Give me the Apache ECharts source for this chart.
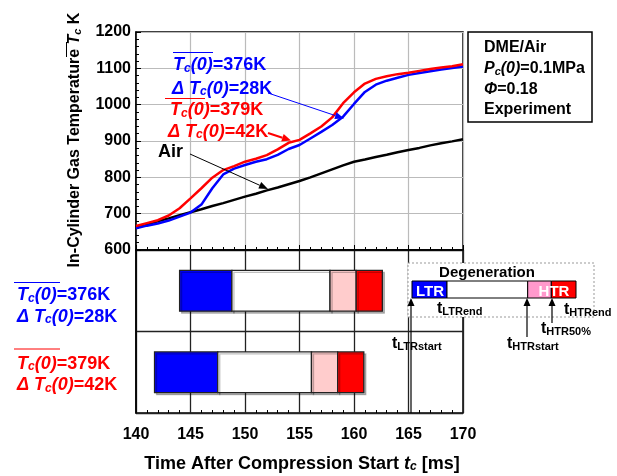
<!DOCTYPE html>
<html><head><meta charset="utf-8">
<script src="https://cdn.jsdelivr.net/npm/echarts@6/dist/echarts.min.js"></script>
<style>html,body{margin:0;padding:0;background:#fff}#c{width:617px;height:476px}</style>
</head><body><div id="c"></div>
<script>
// ---- data ----
const times = [140,141,142,143,144,145,146,147,148,149,150,151,152,153,154,155,156,157,158,159,160,161,162,163,164,165,166,167,168,169,170];
const tempRed = [666,674,682,695,715,742,770,799,820,831,843,851,861,877,895,903,921,940,965,1004,1034,1058,1071,1078,1084,1088,1093,1098,1102,1106,1111];
const tempBlue = [660,667,673,681,692,703,725,770,808,824,834,843,850,862,878,889,907,925,944,967,1002,1035,1055,1066,1074,1082,1087,1092,1097,1101,1105];
const tempAir = [664,671,679,687,696,704,712,721,729,738,747,755,764,772,781,790,800,811,822,833,843,849,856,862,869,875,881,888,894,899,905];
const rows = ['376K/28K','379K/42K'];
const ltrStart = [144.0, 141.7];
const ltrEnd = [148.8, 147.5];
const htrStart = [157.8, 156.1];
const htr50 = [160.2, 158.5];
const htrEnd = [162.6, 160.9];
const xTicks = [140,145,150,155,160,165,170];
const yTicks = [600,700,800,900,1000,1100,1200];

const FF = 'Liberation Sans, Arial, sans-serif';
const BLUE = '#0000ff', RED = '#ff0000';
const segColors = [BLUE, '#ffffff', '#ffcccc', RED];

function pairs(v){ return times.map((t,i)=>[t,v[i]]); }
const barData = [];
rows.forEach((r,i)=>{
  barData.push([i, ltrStart[i], ltrEnd[i], 0]);
  barData.push([i, ltrEnd[i], htrStart[i], 1]);
  barData.push([i, htrStart[i], htr50[i], 2]);
  barData.push([i, htr50[i], htrEnd[i], 3]);
});

function rich(color, size){
  const s = size||18;
  return {
    n:{fontSize:s, fontWeight:'bold', fontFamily:FF, fill:color, lineHeight:s+4, verticalAlign:'bottom'},
    i:{fontSize:s, fontWeight:'bold', fontStyle:'italic', fontFamily:FF, fill:color, lineHeight:s+4, verticalAlign:'bottom'},
    s:{fontSize:Math.round(s*0.66), fontWeight:'bold', fontStyle:'italic', fontFamily:FF, fill:color, lineHeight:8, verticalAlign:'bottom'},
    u:{fontSize:Math.round(s*0.7), fontWeight:'bold', fontFamily:FF, fill:color, lineHeight:8, verticalAlign:'bottom'}
  };
}
function rtext(x,y,text,color,size,align){
  return {type:'text', x:x, y:y, z:50, style:{text:text, rich:rich(color,size), align:align||'left', verticalAlign:'middle'}};
}
function line(x1,y1,x2,y2,color,w,dash){
  return {type:'line', z:50, shape:{x1,y1,x2,y2}, style:{stroke:color, lineWidth:w, lineDash:dash||null}};
}
function arrow(x1,y1,x2,y2,color,w,hl,hw){
  const dx=x2-x1, dy=y2-y1, L=Math.hypot(dx,dy), ux=dx/L, uy=dy/L;
  const bx=x2-ux*hl, by=y2-uy*hl;
  return [
    {type:'line', z:50, shape:{x1,y1,x2:bx,y2:by}, style:{stroke:color,lineWidth:w}},
    {type:'polygon', z:50, shape:{points:[[x2,y2],[bx-uy*hw,by+ux*hw],[bx+uy*hw,by-ux*hw]]}, style:{fill:color}}
  ];
}

const tc0 = (v)=>'{i|T}{s|c}{i|(0)}{n|='+v+'}';
const dtc0 = (v)=>'{i|Δ T}{s|c}{i|(0)}{n|='+v+'}';

const g = [];
// y axis title
g.push({type:'text', x:73, y:140, rotation:Math.PI/2, z:50,
  style:{text:'{n|In-Cylinder Gas Temperature }{i|T}{s|c}{n| K}', rich:rich('#000',16), align:'center', verticalAlign:'middle'}});
g.push(line(66.5,42,66.5,57,'#000',1));
// x axis title
g.push(rtext(302,462,'{n|Time After Compression Start }{i|t}{s|c}{n| [ms]}','#000',18,'center'));
// top annotations
g.push(rtext(173,63.5,tc0('376K'),BLUE));
g.push(line(173,52.5,213,52.5,BLUE,1));
g.push(rtext(172,87,dtc0('28K'),BLUE));
g.push(rtext(170,108.5,tc0('379K'),RED));
g.push(line(165,98.5,205,98.5,RED,1));
g.push(rtext(168,130,dtc0('42K'),RED));
g.push(rtext(158,150,'{n|Air}','#000'));
g.push(...arrow(268,93,344,118.5,BLUE,1,9,3.5));
g.push(...arrow(268,133,291,140.5,RED,2,9,4));
g.push(...arrow(190,154,268,189,'#000',1,9,3.5));
// legend box
g.push({type:'rect', z:40, shape:{x:468,y:32,width:124,height:90}, style:{fill:'#fff',stroke:'#000',lineWidth:1.5}});
g.push(rtext(484,46,'{n|DME/Air}','#000',16));
g.push(rtext(484,67,'{i|P}{s|c}{i|(0)}{n|=0.1MPa}','#000',16));
g.push(rtext(484,87.5,'{i|Φ}{n|=0.18}','#000',16));
g.push(rtext(484,107.5,'{n|Experiment}','#000',16));
// bottom-left labels
g.push(line(14,282.5,60,282.5,BLUE,1));
g.push(rtext(17,293.5,tc0('376K'),BLUE));
g.push(rtext(17,315,dtc0('28K'),BLUE));
g.push(line(14,349,60,349,RED,1));
g.push(rtext(17,362,tc0('379K'),RED));
g.push(rtext(17,383.5,dtc0('42K'),RED));
// inset schematic
g.push({type:'rect', z:40, shape:{x:408,y:263,width:186,height:54}, style:{fill:'#fff',stroke:'#999',lineWidth:1,lineDash:[2,2]}});
g.push(rtext(487,271,'{n|Degeneration}','#000',15,'center'));
const ib=[[412,447,BLUE],[447,527.7,'#fff'],[527.7,551.3,'#ff99cc'],[551.3,576,RED]];
ib.forEach(s=>g.push({type:'rect', z:45, shape:{x:s[0],y:281,width:s[1]-s[0],height:17}, style:{fill:s[2],stroke:'#000',lineWidth:1}}));
g.push(rtext(430,290,'{n|LTR}','#fff',15,'center'));
g.push(rtext(554,290,'{n|HTR}','#fff',15,'center'));
g.push(...arrow(411,413,411,298,'#000',1.2,8,3.5));
g.push(...arrow(527,337,527,298,'#000',1.2,8,3.5));
g.push(...arrow(552,323,552,298,'#000',1.2,8,3.5));
g.push(rtext(392,342,'{n|t}{u|LTRstart}','#000',16));
g.push(rtext(437,307,'{n|t}{u|LTRend}','#000',16));
g.push(rtext(507,342,'{n|t}{u|HTRstart}','#000',16));
g.push(rtext(541,327,'{n|t}{u|HTR50%}','#000',16));
g.push(rtext(564,308,'{n|t}{u|HTRend}','#000',16));

const chart = echarts.init(document.getElementById('c'), null, {renderer:'canvas', width:617, height:476});
const axLab = {color:'#000', fontWeight:'bold', fontSize:16, fontFamily:FF};
chart.setOption({
  animation:false,
  backgroundColor:'#fff',
  grid:[
    {left:136, top:32, width:327, height:218, show:true, borderColor:'#000', borderWidth:1.5, backgroundColor:'transparent'},
    {left:136, top:250, width:327, height:163, show:true, borderColor:'#000', borderWidth:1.5, backgroundColor:'transparent'}
  ],
  xAxis:[
    {type:'value', gridIndex:0, min:140, max:170, interval:5,
     axisLine:{lineStyle:{color:'#000',width:1.5}}, axisLabel:{show:false},
     axisTick:{inside:true, length:5, lineStyle:{color:'#000'}},
     minorTick:{show:true, splitNumber:5, length:3, lineStyle:{color:'#000'}},
     splitLine:{show:true, lineStyle:{color:'#bbbbbb', width:1.2}}},
    {type:'value', gridIndex:1, min:140, max:170, interval:5,
     axisLine:{lineStyle:{color:'#000',width:1.5}},
     axisLabel:Object.assign({margin:14, formatter:(v)=>xTicks.includes(v)?String(v):''}, axLab),
     axisTick:{inside:true, length:5, lineStyle:{color:'#000'}},
     minorTick:{show:true, splitNumber:5, length:3, lineStyle:{color:'#000'}},
     splitLine:{show:true, lineStyle:{color:'#222', width:1.3}}}
  ],
  yAxis:[
    {type:'value', gridIndex:0, min:600, max:1200, interval:100,
     axisLine:{show:true, lineStyle:{color:'#000',width:1.5}},
     axisLabel:Object.assign({margin:5, formatter:(v)=>yTicks.includes(v)?String(v):''}, axLab),
     axisTick:{inside:true, length:5, lineStyle:{color:'#000'}},
     minorTick:{show:true, splitNumber:5, length:3, lineStyle:{color:'#000'}},
     splitLine:{show:true, lineStyle:{color:'#bbbbbb', width:1.2}}},
    {type:'category', gridIndex:1, data:rows, inverse:true,
     axisLine:{show:true, lineStyle:{color:'#000',width:1.5}}, axisLabel:{show:false}, axisTick:{show:false},
     splitLine:{show:true, lineStyle:{color:'#222', width:1.3}}}
  ],
  series:[
    {type:'line', xAxisIndex:0, yAxisIndex:0, data:pairs(tempAir), showSymbol:false, lineStyle:{color:'#000', width:2.5}, z:5},
    {type:'line', xAxisIndex:0, yAxisIndex:0, data:pairs(tempBlue), showSymbol:false, lineStyle:{color:BLUE, width:2.5}, z:6},
    {type:'line', xAxisIndex:0, yAxisIndex:0, data:pairs(tempRed), showSymbol:false, lineStyle:{color:RED, width:2.5}, z:7},
    {type:'custom', xAxisIndex:1, yAxisIndex:1, data:barData, encode:{x:[1,2], y:0}, z:10,
     renderItem:function(params, api){
       const s = api.coord([api.value(1), api.value(0)]);
       const e = api.coord([api.value(2), api.value(0)]);
       const h = api.size([0,1])[1]*0.5;
       return {type:'rect', shape:{x:s[0], y:s[1]-h/2, width:e[0]-s[0], height:h},
         style:{fill:segColors[api.value(3)], stroke:'#222', lineWidth:1.3, shadowColor:'rgba(0,0,0,0.25)', shadowOffsetX:2, shadowOffsetY:2}};
     }}
  ],
  graphic:{elements:g}
});
</script></body></html>
